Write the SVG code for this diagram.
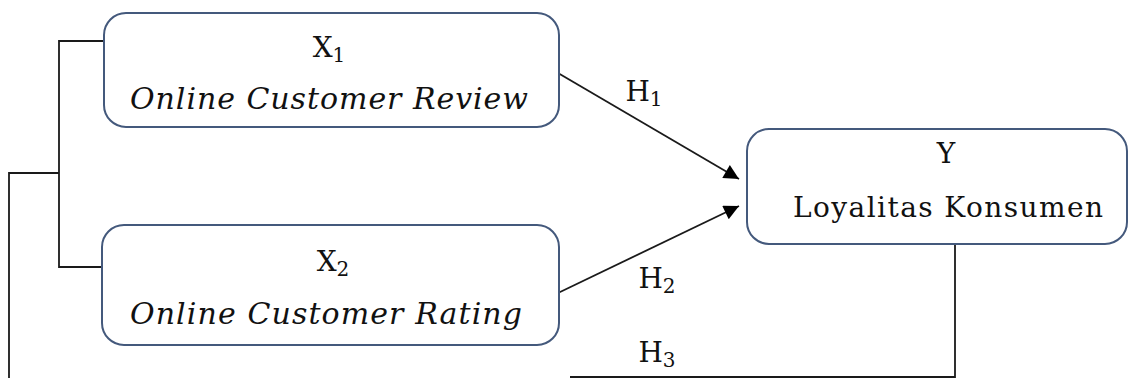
<svg xmlns="http://www.w3.org/2000/svg" width="1129" height="378" viewBox="0 0 1129 378">
<style>
.box{fill:#fff;stroke:#44597c;stroke-width:2}
.t{font-family:"DejaVu Serif","Liberation Serif",serif;fill:#111}
.lbl{font-size:28px;text-anchor:middle}
.it{font-style:italic;font-size:30px}
.line{fill:none;stroke:#1a1a1a;stroke-width:1.8}
.sub{font-size:20px}
</style>
<defs>
<marker id="arr" viewBox="0 0 10 10" refX="10" refY="5" markerWidth="18" markerHeight="15" markerUnits="userSpaceOnUse" orient="auto">
<path d="M0,0 L10,5 L0,10 Z" fill="#000"/>
</marker>
</defs>
<g id="connectors">
<path class="line" d="M104,41 H59 V267 H102"/>
<path class="line" d="M59,173 H9 V378"/>
<path class="line" d="M558,73 L739,179" marker-end="url(#arr)"/>
<path class="line" d="M558,293 L739,206" marker-end="url(#arr)"/>
<path class="line" d="M955,245 V377 H570"/>
<text class="t lbl" x="644" y="101">H<tspan class="sub" dy="5">1</tspan></text>
<text class="t lbl" x="657" y="288">H<tspan class="sub" dy="5">2</tspan></text>
<text class="t lbl" x="657" y="362">H<tspan class="sub" dy="5">3</tspan></text>
</g>
<g id="node-x1">
<rect class="box" x="104" y="13" width="455" height="114" rx="22"/>
<text class="t lbl" x="329" y="57">X<tspan class="sub" dy="5">1</tspan></text>
<text class="t it" x="130" y="109" textLength="398" lengthAdjust="spacing">Online Customer Review</text>
</g>
<g id="node-x2">
<rect class="box" x="102" y="225" width="457" height="120" rx="22"/>
<text class="t lbl" x="333" y="271">X<tspan class="sub" dy="5">2</tspan></text>
<text class="t it" x="130" y="324" textLength="392" lengthAdjust="spacing">Online Customer Rating</text>
</g>
<g id="node-y">
<rect class="box" x="747" y="129" width="380" height="115" rx="22"/>
<text class="t lbl" x="946" y="163">Y</text>
<text class="t" x="793" y="217" font-size="28" textLength="310" lengthAdjust="spacing">Loyalitas Konsumen</text>
</g>
</svg>
